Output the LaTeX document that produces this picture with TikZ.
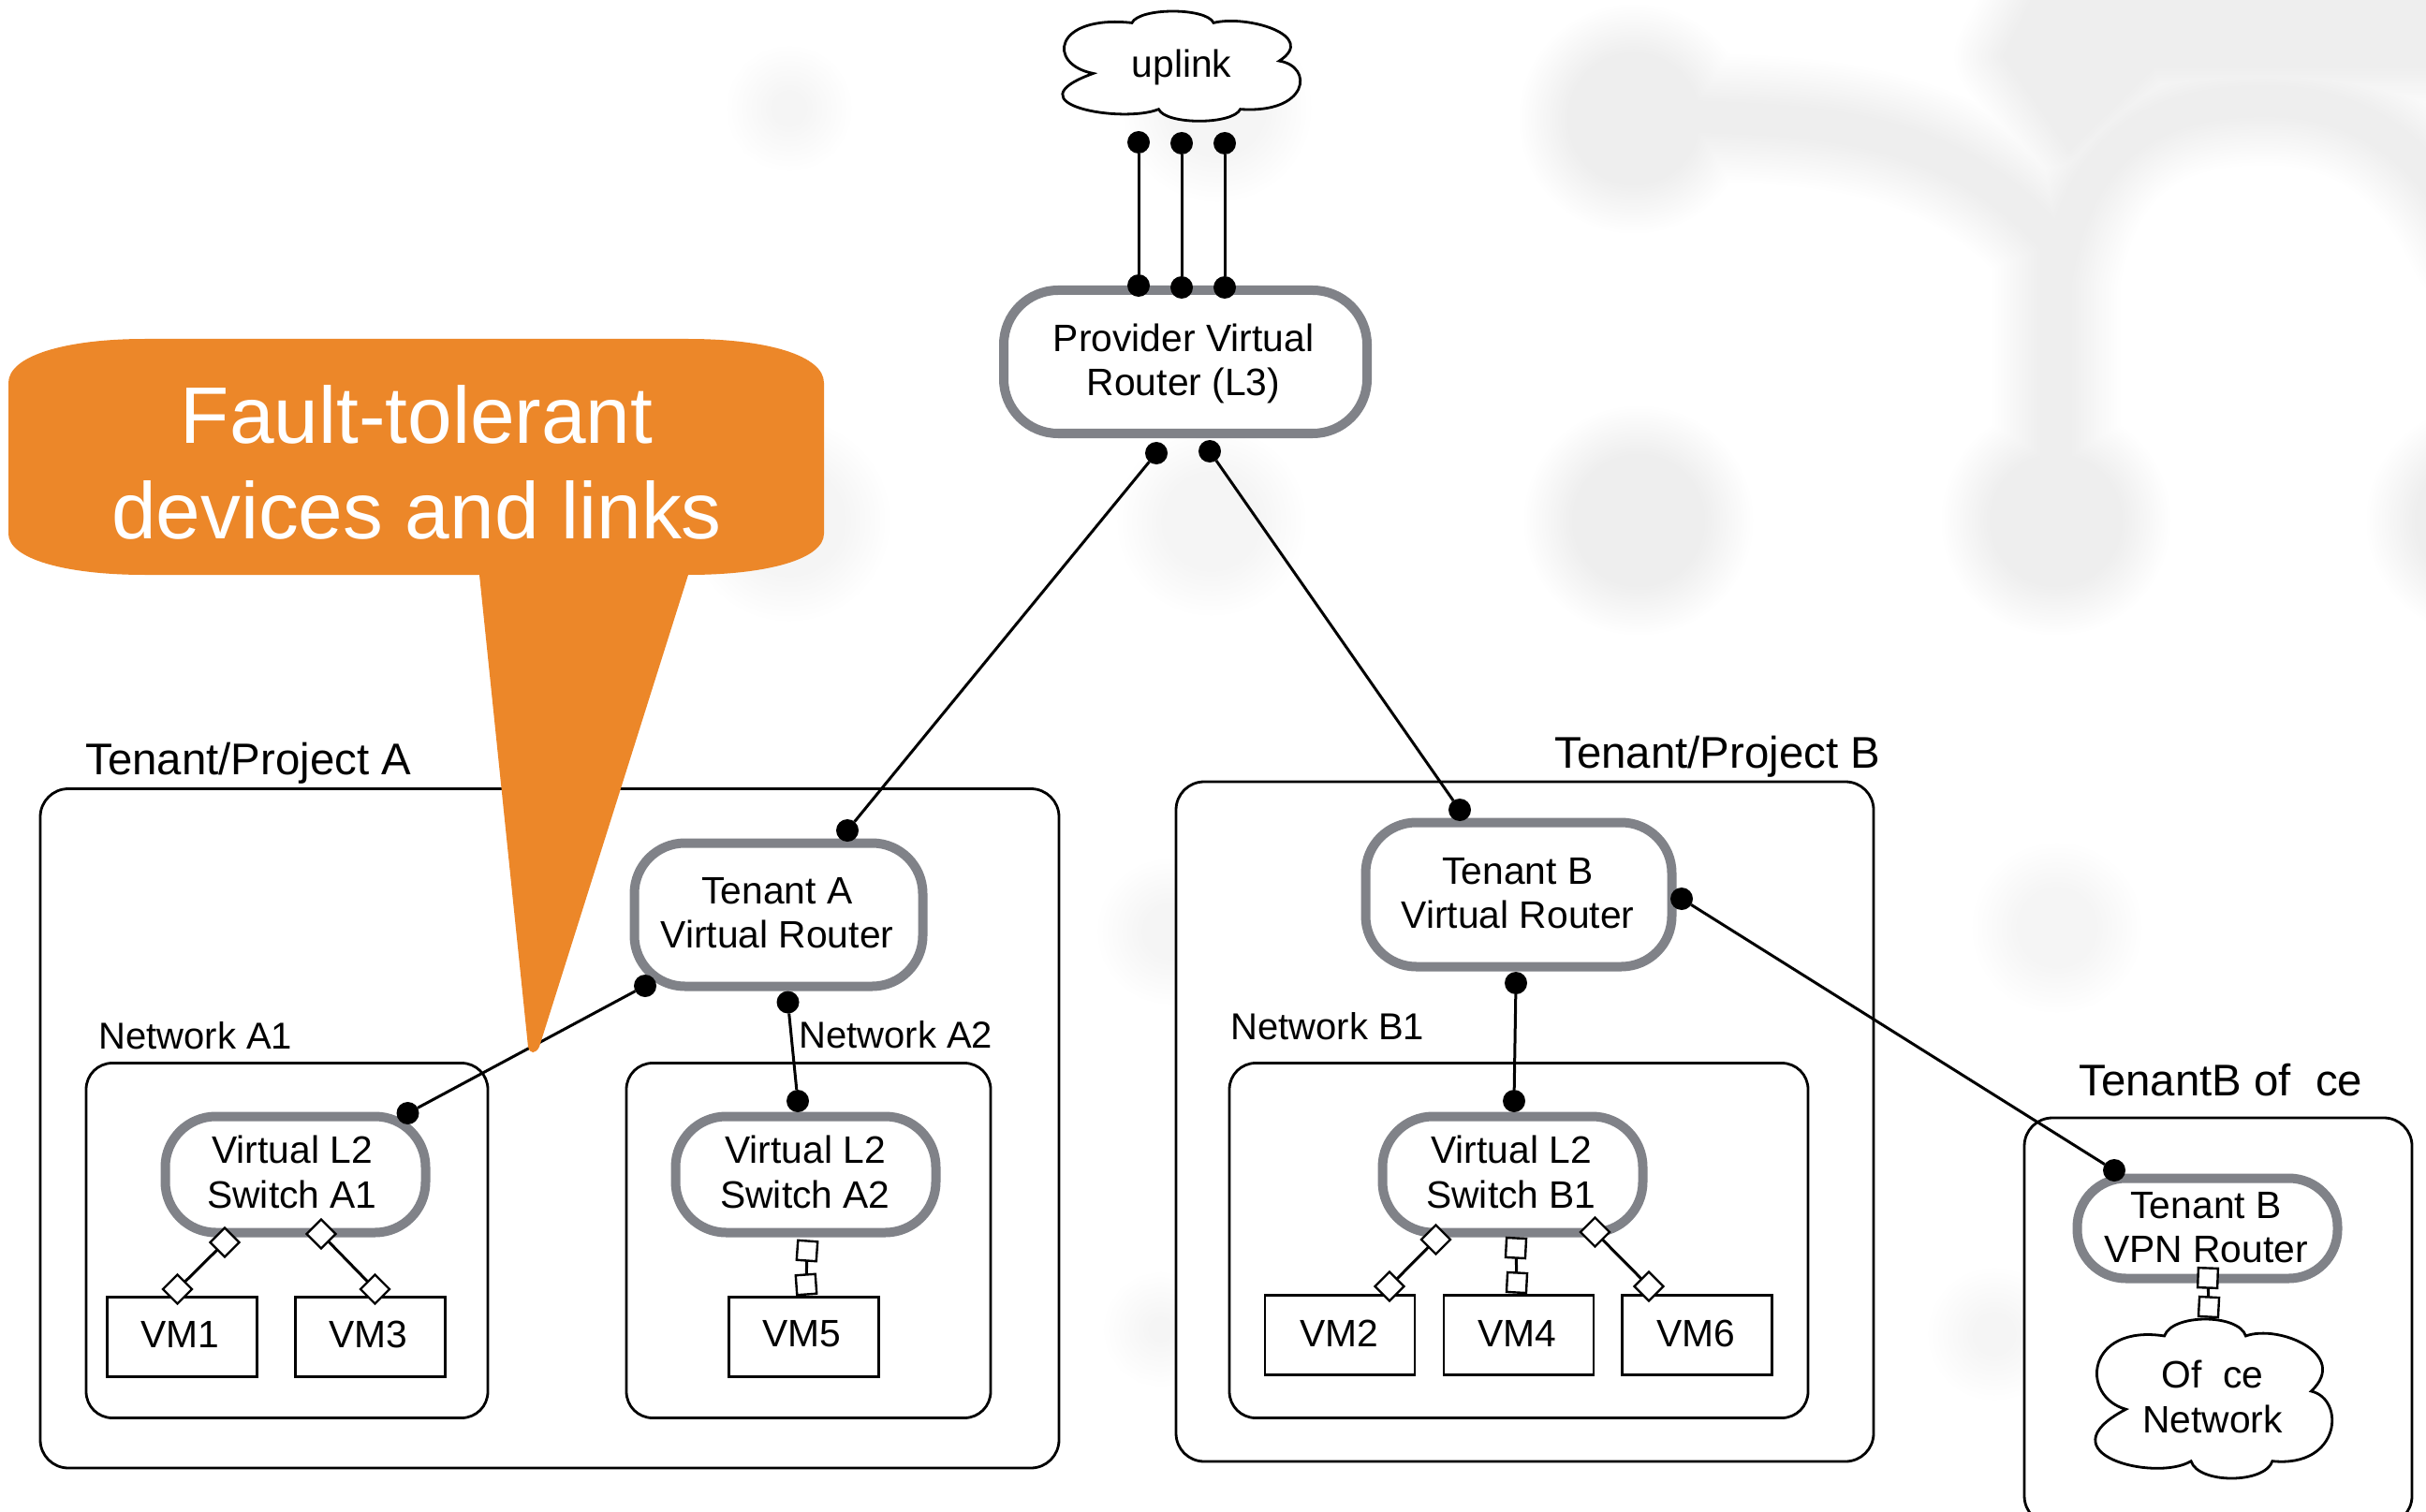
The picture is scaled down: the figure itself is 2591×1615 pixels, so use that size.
\documentclass[tikz,border=0pt]{standalone}
\usepackage{fontspec}
\setmainfont{Liberation Sans}
\usetikzlibrary{shapes.geometric}
\definecolor{routergray}{HTML}{808288}
\definecolor{calloutorange}{HTML}{EC8729}
\newcommand{\cloudoutline}{(.278,.105) .. controls (.31,-.035) and (.59,-.035) .. (.62,.105)
  .. controls (.76,.03) and (1.06,.22) .. (.895,.45)
  .. controls (1.04,.50) and (1.02,.93) .. (.732,.887)
  .. controls (.70,1.03) and (.42,1.03) .. (.39,.887)
  .. controls (.24,1.02) and (-.24,.84) .. (.116,.563)
  .. controls (-.08,.48) and (-.05,.03) .. (.278,.105) -- cycle}
\tikzset{
  txt/.style={font=\fontsize{20.4}{23.6}\selectfont, align=center, inner sep=0pt, text=black},
  biglabel/.style={font=\fontsize{23.7}{27}\selectfont, anchor=base west, inner sep=0pt},
  netlabel/.style={font=\fontsize{20}{24}\selectfont, anchor=base west, inner sep=0pt},
  tenantbox/.style={draw=black, fill=white, line width=1.4pt, rounded corners=15pt},
  netbox/.style={draw=black, fill=white, line width=1.4pt, rounded corners=14pt},
  router/.style={draw=routergray, fill=white, line width=5pt, rounded corners=27pt},
  vmbox/.style={draw=black, fill=white, line width=1.4pt, minimum width=80pt, minimum height=42.5pt},
  portdot/.style={circle, fill=black, minimum size=12pt, inner sep=0pt, outer sep=0pt},
  dia/.style={diamond, aspect=1, draw=black, fill=white, line width=1.2pt, minimum size=15.5pt, inner sep=0pt, outer sep=0pt},
  sq/.style={rectangle, draw=black, fill=white, line width=1.2pt, minimum size=10.5pt, inner sep=0pt, outer sep=0pt},
  link/.style={draw=black, line width=1.5pt},
  cloudline/.style={draw=black, fill=white, line width=1.4pt},
}
\begin{document}
\begin{tikzpicture}[x=0.5pt,y=-0.5pt]
\useasboundingbox (0,0) rectangle (2591,1615);
\fill[white] (0,0) rectangle (2591,1615);
% faded backdrop
\begin{scope}
\clip (0,0) rectangle (2591,1615);
\foreach \i in {0,...,9}{
  \pgfmathsetmacro\g{1-(\i+1)/255}
  \definecolor{blobc}{gray}{\g}
  \pgfmathsetmacro\t{52-5.2*\i}
  \path[fill=blobc,draw=blobc,line width=\t pt]
    (843,116) circle[radius=14] (1300,115) circle[radius=48]
    (843,556) circle[radius=55] (1294,557) circle[radius=48]
    (1250,995) circle[radius=25] (1240,1420) circle[radius=8]
    (2197,991) circle[radius=38] (2130,1425) circle[radius=18];
}
\foreach \i in {0,...,16}{
  \pgfmathsetmacro\g{1-(\i+1)/255}
  \definecolor{blobc}{gray}{\g}
  \pgfmathsetmacro\t{52-3.2*\i}
  \pgfmathsetmacro\tb{\t+16}
  \path[fill=blobc,draw=blobc,line width=\t pt,line join=round]
    (1745,127) circle[radius=70] (1750,556) circle[radius=70]
    (2196,556) circle[radius=70] (2650,556) circle[radius=70]
    (2200,-60) -- (2700,-60) -- (2700,72) -- (2300,72) -- (2210,160) -- (2140,60) -- cycle;
  \path[draw=blobc,line width=\tb pt,line cap=round]
    (1750,120) .. controls (1880,135) and (2060,105) .. (2196,260) -- (2196,520)
    (2196,300) .. controls (2220,140) and (2320,108) .. (2420,108)
      .. controls (2510,108) and (2590,150) .. (2640,260);
}
\end{scope}
% containers
\node[tenantbox, minimum width=544pt, minimum height=362.75pt] (tenantA) at (587,1205.25) {};
\node[tenantbox, minimum width=372.5pt, minimum height=363pt] (tenantB) at (1628.5,1198) {};
\begin{scope}
\clip (0,0) rectangle (2591,1615);
\node[tenantbox, minimum width=207pt, minimum height=217pt] (office) at (2369,1411) {};
\end{scope}
\node[netbox, minimum width=214.5pt, minimum height=189.5pt] (netA1) at (306.5,1325) {};
\node[netbox, minimum width=194.5pt, minimum height=189.5pt] (netA2) at (863.5,1325) {};
\node[netbox, minimum width=309pt, minimum height=189.5pt] (netB1) at (1622,1325) {};
% labels
\node[biglabel] (labTA) at (91,827) {Tenant/Project A};
\node[biglabel] (labTB) at (1660,820.5) {Tenant/Project B};
\node[biglabel] (labOff) at (2220,1170) {TenantB of\hspace{.55em}ce};
\node[netlabel] (labA1) at (105,1120) {Network A1};
\node[netlabel] (labA2) at (853,1119.5) {Network A2};
\node[netlabel] (labB1) at (1314,1110) {Network B1};
% clouds
\begin{scope}[shift={(1138,12)},x=127.5pt,y=-59pt]
\draw[cloudline] \cloudoutline;
\end{scope}
\node[txt] (uplink) at (1262,72) {uplink};
\begin{scope}[shift={(2241,1409)},x=127pt,y=-85.5pt]
\draw[cloudline] \cloudoutline;
\end{scope}
\node[txt] (officenet) at (2363,1492) {Of\hspace{.55em}ce\\Network};
% routers and switches
\node[router, minimum width=194pt, minimum height=76.5pt, rounded corners=29pt] (provider) at (1266,386.5) {};
\node[txt] (providerT) at (1264,388.5) {Provider Virtual\\Router (L3)};
\node[router, minimum width=154pt, minimum height=76.5pt] (routerA) at (831.5,977) {};
\node[txt] (routerAT) at (830,975.5) {Tenant A\\Virtual Router};
\node[router, minimum width=163.5pt, minimum height=77pt] (routerB) at (1622,955.5) {};
\node[txt] (routerBT) at (1621,954) {Tenant B\\Virtual Router};
\node[router, minimum width=139pt, minimum height=62pt] (swA1) at (315.5,1254.5) {};
\node[txt] (swA1T) at (312,1252) {Virtual L2\\Switch A1};
\node[router, minimum width=139pt, minimum height=62pt] (swA2) at (860.5,1254.5) {};
\node[txt] (swA2T) at (860,1252) {Virtual L2\\Switch A2};
\node[router, minimum width=139pt, minimum height=62pt] (swB1) at (1615.5,1254.5) {};
\node[txt] (swB1T) at (1614,1252) {Virtual L2\\Switch B1};
\node[router, minimum width=139pt, minimum height=53.5pt, rounded corners=26pt] (vpn) at (2357.5,1312) {};
\node[txt] (vpnT) at (2356,1311) {Tenant B\\VPN Router};
% VMs
\node[vmbox] (vm1) at (194.5,1428) {};
\node[txt] (vm1T) at (192,1425) {VM1};
\node[vmbox] (vm3) at (395.5,1428) {};
\node[txt] (vm3T) at (393.5,1425) {VM3};
\node[vmbox] (vm5) at (858.5,1428) {};
\node[txt] (vm5T) at (856.5,1425) {VM5};
\node[vmbox] (vm2) at (1431,1426) {};
\node[txt] (vm2T) at (1430,1424) {VM2};
\node[vmbox] (vm4) at (1622,1426) {};
\node[txt] (vm4T) at (1620.5,1424) {VM4};
\node[vmbox] (vm6) at (1812.5,1426) {};
\node[txt] (vm6T) at (1811,1424) {VM6};
% ports
\node[portdot] (u1) at (1216,152) {};
\node[portdot] (u2) at (1262,153) {};
\node[portdot] (u3) at (1308,153) {};
\node[portdot] (p1) at (1216,305) {};
\node[portdot] (p2) at (1262,307) {};
\node[portdot] (p3) at (1308,307) {};
\node[portdot] (pl) at (1235,484) {};
\node[portdot] (pr) at (1292,482) {};
\node[portdot] (ta) at (905,887) {};
\node[portdot] (tb) at (1559,865) {};
\node[portdot] (br) at (1796,960) {};
\node[portdot] (bd) at (1619,1050) {};
\node[portdot] (al) at (689,1053) {};
\node[portdot] (ad) at (841.5,1070.5) {};
\node[portdot] (sa1) at (435.5,1189) {};
\node[portdot] (sa2) at (852,1176) {};
\node[portdot] (sb1) at (1617,1176) {};
\node[portdot] (vp) at (2258,1250) {};
\node[dia] (d1u) at (240,1327) {};
\node[dia] (d1l) at (189.5,1377) {};
\node[dia] (d3u) at (343,1318) {};
\node[dia] (d3l) at (400.5,1377) {};
\node[dia] (d2u) at (1533.5,1324) {};
\node[dia] (d2l) at (1484,1374) {};
\node[dia] (d6u) at (1703.5,1316) {};
\node[dia] (d6l) at (1761,1374) {};
\node[sq,rotate=-4] (s5u) at (862,1336) {};
\node[sq,rotate=4] (s5l) at (861,1372) {};
\node[sq,rotate=-3] (s4u) at (1619,1333) {};
\node[sq,rotate=-3] (s4l) at (1620,1370) {};
\node[sq,rotate=-2] (svu) at (2358,1365) {};
\node[sq,rotate=-3] (svl) at (2359,1396) {};
% connectors
\draw[link] (u1) -- (p1);
\draw[link] (u2) -- (p2);
\draw[link] (u3) -- (p3);
\draw[link] (pl) -- (ta);
\draw[link] (pr) -- (tb);
\draw[link] (al) -- (sa1);
\draw[link] (ad) -- (sa2);
\draw[link] (bd) -- (sb1);
\draw[link] (br) -- (vp);
\draw[link] (d1u) -- (d1l);
\draw[link] (d3u) -- (d3l);
\draw[link] (d2u) -- (d2l);
\draw[link] (d6u) -- (d6l);
\draw[link] (s5u) -- (s5l);
\draw[link] (s4u) -- (s4l);
\draw[link] (svu) -- (svl);
% callout
\fill[calloutorange] (9,409) .. controls (9,380) and (70,362) .. (155,362) -- (735,362)
  .. controls (820,362) and (880,380) .. (880,409) -- (880,570)
  .. controls (880,597) and (820,614) .. (735,614)
  -- (576,1118) .. controls (572,1126) and (566,1126) .. (564,1118)
  -- (512,614) -- (155,614)
  .. controls (70,614) and (9,597) .. (9,570) -- cycle;
\node[inner sep=0pt, align=center, text=white, font=\fontsize{42.8}{51}\selectfont] (callout) at (445,493.5) {Fault-tolerant\\devices and links};
\end{tikzpicture}
\end{document}
